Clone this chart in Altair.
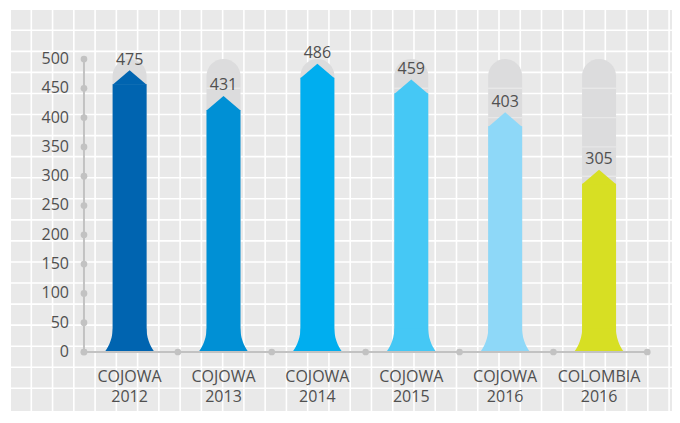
import altair as alt
import pandas as pd

# ---- data ----
NAMES = ["COJOWA", "COJOWA", "COJOWA", "COJOWA", "COJOWA", "COLOMBIA"]
YEARS = ["2012", "2013", "2014", "2015", "2016", "2016"]
VALUES = [475, 431, 486, 459, 403, 305]
COLORS = ["#0064b0", "#0090d5", "#00aeef", "#45c8f5", "#8ed8f8", "#d7df23"]
Y_TICKS = [0, 50, 100, 150, 200, 250, 300, 350, 400, 450, 500]
GRID_X = list(range(1, 32))
GRID_Y = list(range(1, 19))

FONT = "Open Sans"
TEXT_COLOR = "#505050"
AXIS_COLOR = "#c2c2c2"
W, H = 661, 401

n = len(VALUES)
bars = pd.DataFrame({"idx": list(range(n)), "name": NAMES, "year": YEARS, "value": VALUES})
bars["center"] = bars["idx"] + 0.5
bars["key"] = bars["name"] + " " + bars["year"]
bars["label"] = bars["name"] + "\n" + bars["year"]
bars["top"] = Y_TICKS[-1]
bars["zero"] = 0

cap_lines = pd.DataFrame(
    [{"center": c, "t": t} for c in bars["center"] for t in Y_TICKS if 0 < t < Y_TICKS[-1]]
)
yticks = pd.DataFrame({"t": Y_TICKS, "x": 0})
xdots = pd.DataFrame({"b": list(range(n + 1)), "y": 0})
yaxis = pd.DataFrame({"x": [0], "y0": [0], "y1": [Y_TICKS[-1]]})
xaxis = pd.DataFrame({"x0": [0], "x1": [n], "y": [0]})

xs = alt.Scale(domain=[-0.724, 6.21], nice=False, zero=False)
ys = alt.Scale(domain=[-100.7, 583.6], nice=False, zero=False)
color = alt.Color("key:N", scale=alt.Scale(domain=list(bars["key"]), range=COLORS), legend=None)

XO = -1.3
BW = 34

# ---- background grid (independent scales) ----
vgrid = alt.Chart(pd.DataFrame({"g": GRID_X})).mark_rule(color="white", strokeWidth=1.6).encode(
    x=alt.X("g:Q", scale=alt.Scale(domain=[0.045, 31.137], nice=False, zero=False), axis=None)
)
hgrid = alt.Chart(pd.DataFrame({"g": GRID_Y})).mark_rule(color="white", strokeWidth=1.6).encode(
    y=alt.Y("g:Q", scale=alt.Scale(domain=[0.036, 19.077], reverse=True, nice=False, zero=False), axis=None)
)
grid = alt.layer(vgrid, hgrid)

# ---- data layers ----
base = alt.Chart(bars)
X = alt.X("center:Q", scale=xs, axis=None)

capsule = base.mark_bar(
    size=BW, color="#dcdcdd", cornerRadiusTopLeft=17, cornerRadiusTopRight=17, xOffset=XO
).encode(x=X, y=alt.Y("top:Q", scale=ys, axis=None), y2="zero:Q")

seg = alt.Chart(cap_lines).mark_tick(
    orient="horizontal", size=BW, thickness=1.4, color="#ededed", xOffset=XO
).encode(x=alt.X("center:Q", scale=xs, axis=None), y=alt.Y("t:Q", scale=ys, axis=None))

body = base.mark_bar(size=BW, yOffset=10.5, xOffset=XO).encode(
    x=X, y=alt.Y("value:Q", scale=ys, axis=None), y2="zero:Q", color=color
)

TRI = "M-1,0.65L0,-0.206L1,0.65Z"
tip = base.mark_point(
    shape=TRI, size=BW * BW, filled=True, opacity=1, strokeWidth=0, xOffset=XO
).encode(x=X, y=alt.Y("value:Q", scale=ys, axis=None), color=color)

FLARE = ("M-1,0C-0.91,-0.12,-0.70,-0.40,-0.667,-0.941"
         "L0.667,-0.941C0.70,-0.40,0.91,-0.12,1,0Z")
flare = base.mark_point(
    shape=FLARE, size=50 * 50, filled=True, opacity=1, strokeWidth=0, xOffset=XO
).encode(x=X, y=alt.Y("zero:Q", scale=ys, axis=None), color=color)

vlabels = base.mark_text(
    dy=-14, fontSize=16, font=FONT, color=TEXT_COLOR, baseline="middle", align="center", xOffset=XO
).encode(x=X, y=alt.Y("value:Q", scale=ys, axis=None), text="value:Q")

xlabels = base.mark_text(
    dy=17, fontSize=16, font=FONT, color=TEXT_COLOR, baseline="top", align="center",
    lineBreak="\n", lineHeight=20, xOffset=XO
).encode(x=X, y=alt.Y("zero:Q", scale=ys, axis=None), text="label:N")

yaxis_line = alt.Chart(yaxis).mark_rule(color=AXIS_COLOR, strokeWidth=2).encode(
    x=alt.X("x:Q", scale=xs, axis=None), y=alt.Y("y0:Q", scale=ys, axis=None), y2="y1:Q"
)
xaxis_line = alt.Chart(xaxis).mark_rule(color=AXIS_COLOR, strokeWidth=2).encode(
    x=alt.X("x0:Q", scale=xs, axis=None), x2="x1:Q", y=alt.Y("y:Q", scale=ys, axis=None)
)
ydots = alt.Chart(yticks).mark_circle(color=AXIS_COLOR, size=45, opacity=1).encode(
    x=alt.X("x:Q", scale=xs, axis=None), y=alt.Y("t:Q", scale=ys, axis=None)
)
xdots_l = alt.Chart(xdots).mark_circle(color=AXIS_COLOR, size=45, opacity=1).encode(
    x=alt.X("b:Q", scale=xs, axis=None), y=alt.Y("y:Q", scale=ys, axis=None)
)
ylabels = alt.Chart(yticks).mark_text(
    dx=-15, fontSize=16, font=FONT, color=TEXT_COLOR, align="right", baseline="middle"
).encode(x=alt.X("x:Q", scale=xs, axis=None), y=alt.Y("t:Q", scale=ys, axis=None), text="t:Q")

data_layer = alt.layer(
    capsule, seg, body, tip, flare, xaxis_line, yaxis_line, xdots_l, ydots, vlabels, xlabels, ylabels
)

chart = alt.layer(grid, data_layer).resolve_scale(x="independent", y="independent").properties(
    width=W, height=H,
    padding={"left": 3, "top": 2, "right": 0, "bottom": 0},
    autosize=alt.AutoSizeParams(type="none"),
    background="white",
).configure_view(fill="#e9e9e9", stroke=None)

chart.save("out.html", embed_options={"renderer": "svg", "actions": False})
